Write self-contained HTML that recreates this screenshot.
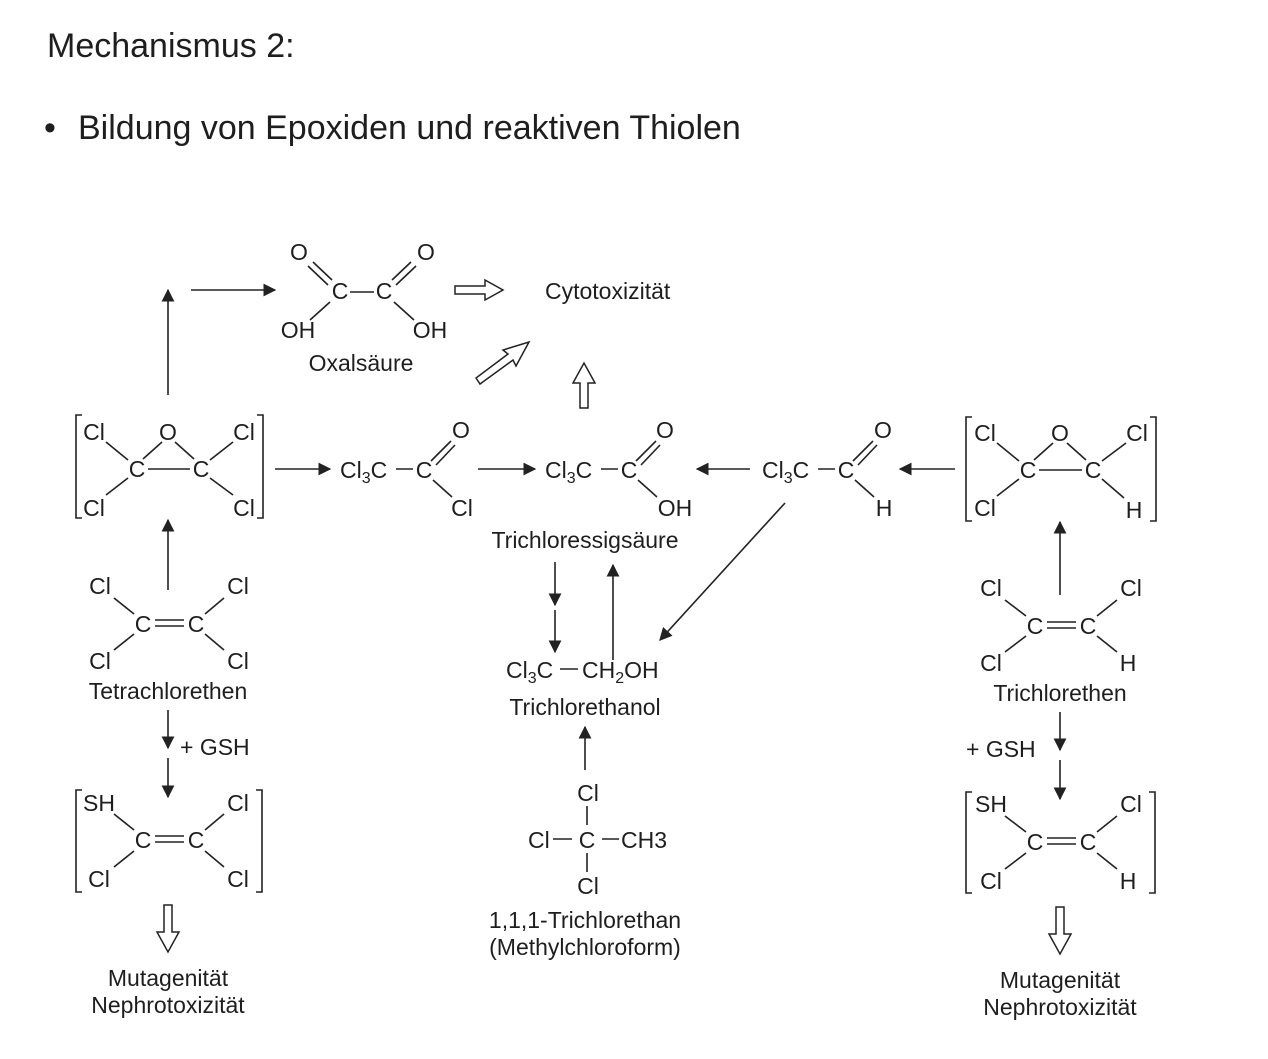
<!DOCTYPE html>
<html><head><meta charset="utf-8"><style>
html,body{margin:0;padding:0;background:#fff;}
svg{display:block;}
text{font-family:"Liberation Sans",sans-serif;fill:#1e1e1e;}
.t{font-size:23px;}
.c{text-anchor:middle;}
line,polyline{stroke:#222;stroke-width:1.6;fill:none;}
.h{fill:#fff;stroke:#222;stroke-width:1.5;}
</style></head><body>
<svg width="1268" height="1059" viewBox="0 0 1268 1059">
<defs><marker id="b" viewBox="0 0 10 10" refX="9" refY="5" markerWidth="13" markerHeight="13" markerUnits="userSpaceOnUse" orient="auto"><path d="M0,0 L10,5 L0,10 z" fill="#222"/></marker></defs>
<text x="47" y="57" style="font-size:34px">Mechanismus 2:</text>
<text x="44" y="139" style="font-size:34px">•</text>
<text x="78" y="139" style="font-size:34px">Bildung von Epoxiden und reaktiven Thiolen</text>

<line x1="168" y1="395" x2="168" y2="290" marker-end="url(#b)"/>
<line x1="191" y1="290" x2="275" y2="290" marker-end="url(#b)"/>
<g class="t">
<text x="299" y="260" class="c">O</text><text x="426" y="260" class="c">O</text>
<text x="340" y="299" class="c">C</text><text x="384" y="299" class="c">C</text>
<text x="298" y="338" class="c">OH</text><text x="430" y="338" class="c">OH</text>
<text x="361" y="371" class="c">Oxalsäure</text>
<text x="545" y="299">Cytotoxizität</text>
</g>
<line x1="350" y1="292" x2="374" y2="292"/>
<line x1="308" y1="266" x2="328" y2="285"/><line x1="313" y1="262" x2="332" y2="280"/>
<line x1="416" y1="266" x2="396" y2="285"/><line x1="411" y1="262" x2="392" y2="280"/>
<line x1="330" y1="302" x2="310" y2="320"/><line x1="394" y1="302" x2="414" y2="320"/>
<polygon class="h" points="455,286 485,286 485,280 503,290 485,300 485,294 455,294"/>
<polygon class="h" points="476,378 480,384 513,360 516,366 529,342 503,350 508,354"/>
<polygon class="h" points="580,408 588,408 588,383 595,383 584,363 573,383 580,383"/>

<polyline points="82,415 76,415 76,518 82,518"/><polyline points="257,415 263,415 263,518 257,518"/>
<g class="t">
<text x="94" y="440" class="c">Cl</text><text x="168" y="440" class="c">O</text><text x="244" y="440" class="c">Cl</text>
<text x="137" y="477" class="c">C</text><text x="201" y="477" class="c">C</text>
<text x="94" y="516" class="c">Cl</text><text x="244" y="516" class="c">Cl</text>
</g>
<line x1="148" y1="469" x2="190" y2="469"/>
<line x1="143" y1="459" x2="162" y2="442"/><line x1="175" y1="442" x2="194" y2="459"/>
<line x1="106" y1="442" x2="128" y2="460"/><line x1="233" y1="442" x2="210" y2="460"/>
<line x1="106" y1="495" x2="128" y2="478"/><line x1="233" y1="495" x2="210" y2="478"/>
<line x1="275" y1="469" x2="330" y2="469" marker-end="url(#b)"/>
<g class="t"><text x="340" y="478">Cl<tspan dy="5" style="font-size:16px">3</tspan><tspan dy="-5">C</tspan></text>
<text x="424" y="478" class="c">C</text><text x="461" y="438" class="c">O</text><text x="462" y="516" class="c">Cl</text></g>
<line x1="396" y1="469" x2="413" y2="469"/>
<line x1="431" y1="461" x2="451" y2="441"/><line x1="436" y1="465" x2="455" y2="445"/>
<line x1="433" y1="480" x2="452" y2="497"/>
<line x1="478" y1="469" x2="535" y2="469" marker-end="url(#b)"/>
<g class="t"><text x="545" y="478">Cl<tspan dy="5" style="font-size:16px">3</tspan><tspan dy="-5">C</tspan></text>
<text x="629" y="478" class="c">C</text><text x="665" y="438" class="c">O</text><text x="675" y="516" class="c">OH</text>
<text x="585" y="548" class="c">Trichloressigsäure</text></g>
<line x1="601" y1="469" x2="618" y2="469"/>
<line x1="636" y1="461" x2="656" y2="441"/><line x1="641" y1="465" x2="660" y2="445"/>
<line x1="638" y1="480" x2="657" y2="497"/>
<line x1="750" y1="469" x2="697" y2="469" marker-end="url(#b)"/>
<g class="t"><text x="762" y="478">Cl<tspan dy="5" style="font-size:16px">3</tspan><tspan dy="-5">C</tspan></text>
<text x="846" y="478" class="c">C</text><text x="883" y="438" class="c">O</text><text x="884" y="516" class="c">H</text></g>
<line x1="818" y1="469" x2="835" y2="469"/>
<line x1="853" y1="461" x2="873" y2="441"/><line x1="858" y1="465" x2="877" y2="445"/>
<line x1="855" y1="480" x2="874" y2="497"/>
<line x1="955" y1="469" x2="900" y2="469" marker-end="url(#b)"/>
<polyline points="972,417 966,417 966,521 972,521"/><polyline points="1150,417 1156,417 1156,521 1150,521"/>
<g class="t">
<text x="985" y="441" class="c">Cl</text><text x="1060" y="441" class="c">O</text><text x="1137" y="441" class="c">Cl</text>
<text x="1028" y="478" class="c">C</text><text x="1093" y="478" class="c">C</text>
<text x="985" y="516" class="c">Cl</text><text x="1134" y="518" class="c">H</text>
</g>
<line x1="1039" y1="470" x2="1082" y2="470"/>
<line x1="1034" y1="460" x2="1053" y2="443"/><line x1="1067" y1="443" x2="1086" y2="460"/>
<line x1="997" y1="443" x2="1019" y2="461"/><line x1="1126" y1="443" x2="1102" y2="461"/>
<line x1="997" y1="496" x2="1019" y2="479"/><line x1="1124" y1="498" x2="1102" y2="479"/>

<line x1="785" y1="503" x2="660" y2="640" marker-end="url(#b)"/>
<line x1="555" y1="562" x2="555" y2="605" marker-end="url(#b)"/>
<line x1="555" y1="610" x2="555" y2="652" marker-end="url(#b)"/>
<line x1="613" y1="660" x2="613" y2="565" marker-end="url(#b)"/>
<g class="t"><text x="506" y="678">Cl<tspan dy="5" style="font-size:16px">3</tspan><tspan dy="-5">C</tspan></text>
<text x="582" y="678">CH<tspan dy="5" style="font-size:16px">2</tspan><tspan dy="-5">OH</tspan></text>
<text x="585" y="715" class="c">Trichlorethanol</text></g>
<line x1="560" y1="669" x2="578" y2="669"/>
<line x1="585" y1="770" x2="585" y2="727" marker-end="url(#b)"/>
<g class="t"><text x="588" y="801" class="c">Cl</text>
<text x="528" y="848">Cl</text><text x="587" y="848" class="c">C</text><text x="621" y="848">CH3</text>
<text x="588" y="894" class="c">Cl</text>
<text x="585" y="928" class="c">1,1,1-Trichlorethan</text><text x="585" y="955" class="c">(Methylchloroform)</text></g>
<line x1="587" y1="806" x2="587" y2="825"/><line x1="587" y1="853" x2="587" y2="872"/>
<line x1="553" y1="839" x2="572" y2="839"/><line x1="602" y1="839" x2="619" y2="839"/>

<line x1="168" y1="590" x2="168" y2="520" marker-end="url(#b)"/>
<g class="t">
<text x="100" y="594" class="c">Cl</text><text x="238" y="594" class="c">Cl</text>
<text x="143" y="632" class="c">C</text><text x="196" y="632" class="c">C</text>
<text x="100" y="669" class="c">Cl</text><text x="238" y="669" class="c">Cl</text>
<text x="168" y="699" class="c">Tetrachlorethen</text>
<text x="180" y="755">+ GSH</text>
</g>
<line x1="155" y1="620" x2="184" y2="620"/><line x1="155" y1="626" x2="184" y2="626"/>
<line x1="114" y1="598" x2="134" y2="614"/><line x1="224" y1="598" x2="205" y2="614"/>
<line x1="114" y1="650" x2="134" y2="634"/><line x1="224" y1="650" x2="205" y2="634"/>
<line x1="168" y1="710" x2="168" y2="748" marker-end="url(#b)"/>
<line x1="168" y1="758" x2="168" y2="797" marker-end="url(#b)"/>
<polyline points="82,790 76,790 76,892 82,892"/><polyline points="256,790 262,790 262,892 256,892"/>
<g class="t">
<text x="99" y="811" class="c">SH</text><text x="238" y="811" class="c">Cl</text>
<text x="143" y="848" class="c">C</text><text x="196" y="848" class="c">C</text>
<text x="99" y="887" class="c">Cl</text><text x="238" y="887" class="c">Cl</text>
</g>
<line x1="155" y1="836" x2="184" y2="836"/><line x1="155" y1="842" x2="184" y2="842"/>
<line x1="114" y1="814" x2="134" y2="830"/><line x1="224" y1="814" x2="205" y2="830"/>
<line x1="114" y1="867" x2="134" y2="851"/><line x1="224" y1="867" x2="205" y2="851"/>
<polygon class="h" points="164,905 172,905 172,932 179,932 168,952 157,932 164,932"/>
<g class="t"><text x="168" y="986" class="c">Mutagenität</text><text x="168" y="1013" class="c">Nephrotoxizität</text></g>

<line x1="1060" y1="595" x2="1060" y2="522" marker-end="url(#b)"/>
<g class="t">
<text x="991" y="596" class="c">Cl</text><text x="1131" y="596" class="c">Cl</text>
<text x="1035" y="634" class="c">C</text><text x="1088" y="634" class="c">C</text>
<text x="991" y="671" class="c">Cl</text><text x="1128" y="671" class="c">H</text>
<text x="1060" y="701" class="c">Trichlorethen</text>
<text x="966" y="757">+ GSH</text>
</g>
<line x1="1047" y1="622" x2="1076" y2="622"/><line x1="1047" y1="628" x2="1076" y2="628"/>
<line x1="1005" y1="600" x2="1026" y2="616"/><line x1="1117" y1="600" x2="1097" y2="616"/>
<line x1="1005" y1="652" x2="1026" y2="636"/><line x1="1117" y1="652" x2="1097" y2="636"/>
<line x1="1060" y1="712" x2="1060" y2="750" marker-end="url(#b)"/>
<line x1="1060" y1="760" x2="1060" y2="799" marker-end="url(#b)"/>
<polyline points="972,792 966,792 966,893 972,893"/><polyline points="1149,792 1155,792 1155,893 1149,893"/>
<g class="t">
<text x="991" y="812" class="c">SH</text><text x="1131" y="812" class="c">Cl</text>
<text x="1035" y="850" class="c">C</text><text x="1088" y="850" class="c">C</text>
<text x="991" y="889" class="c">Cl</text><text x="1128" y="889" class="c">H</text>
</g>
<line x1="1047" y1="838" x2="1076" y2="838"/><line x1="1047" y1="844" x2="1076" y2="844"/>
<line x1="1005" y1="816" x2="1026" y2="832"/><line x1="1117" y1="816" x2="1097" y2="832"/>
<line x1="1005" y1="869" x2="1026" y2="853"/><line x1="1117" y1="869" x2="1097" y2="853"/>
<polygon class="h" points="1056,907 1064,907 1064,934 1071,934 1060,954 1049,934 1056,934"/>
<g class="t"><text x="1060" y="988" class="c">Mutagenität</text><text x="1060" y="1015" class="c">Nephrotoxizität</text></g>
</svg>
</body></html>
